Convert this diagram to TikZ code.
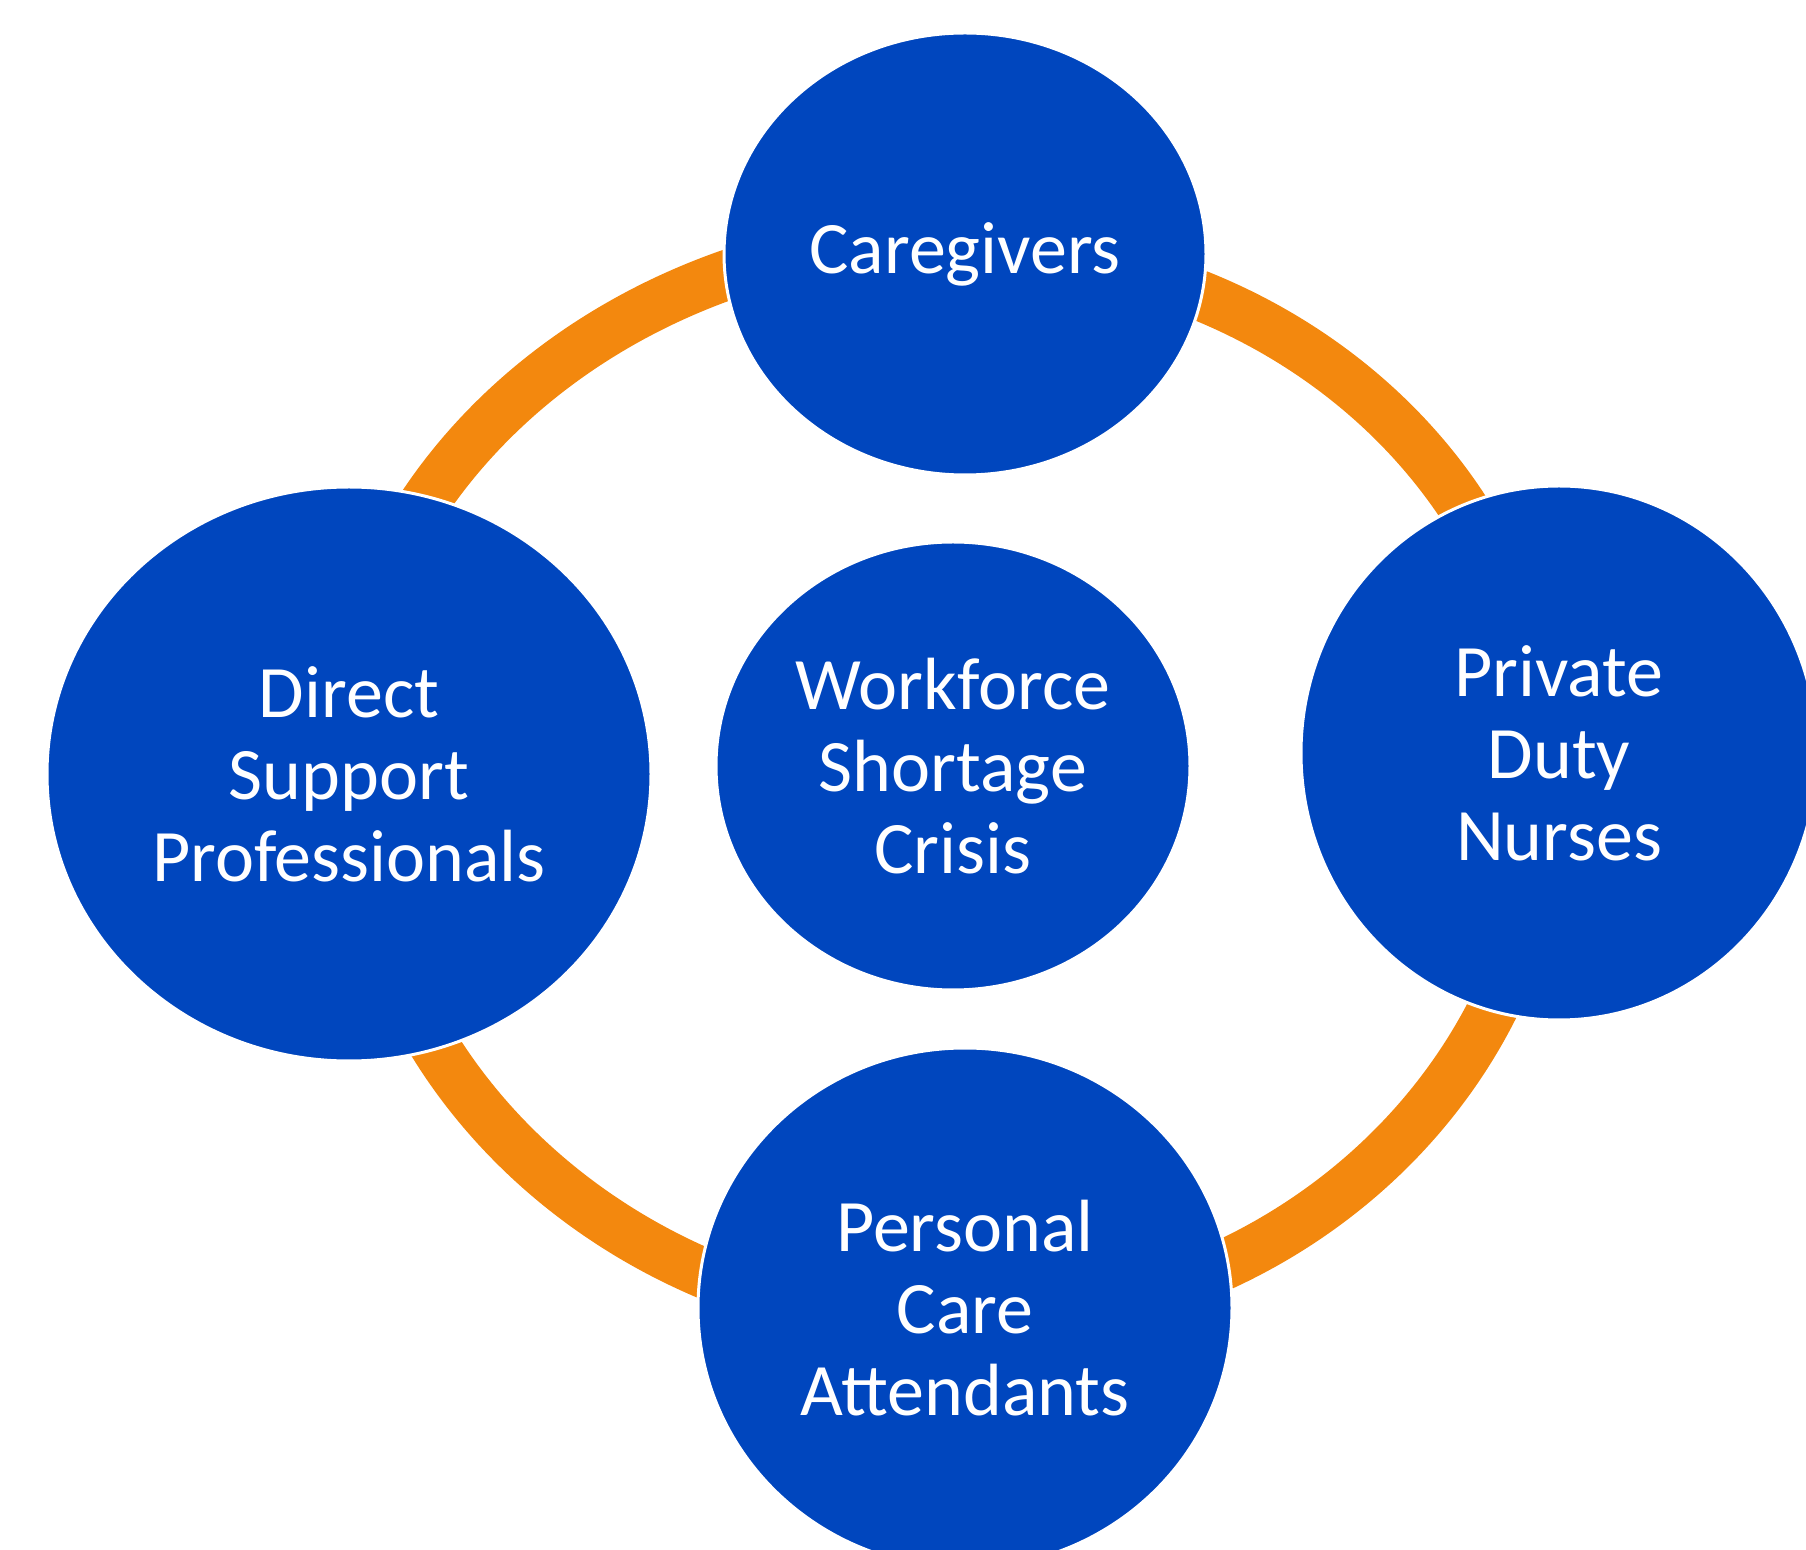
\documentclass[tikz,border=0pt]{standalone}
\usepackage{fontspec}
\setmainfont{Carlito}
\usetikzlibrary{shapes.geometric}

\definecolor{cycleblue}{HTML}{0046BE}
\definecolor{cycleorange}{HTML}{F3880E}

\newcommand*{\xMax}{1806}
\newcommand*{\yMax}{1550}

\begin{document}
\begin{tikzpicture}[x=0.5pt,y=-0.5pt,
    bubble/.style={ellipse,fill=cycleblue,draw=white,line width=1.5pt,
        inner sep=0pt,text=white,align=center,
        font=\fontsize{37}{41}\selectfont},
    ring/.style={draw=cycleorange,line width=25pt}]

    \useasboundingbox (0,0) rectangle (\xMax,\yMax);
    \clip (0,0) rectangle (\xMax,\yMax);

%   ends of the orange arcs, hidden under the bubbles
    \coordinate (dspTop)  at (340,774);
    \coordinate (careL)   at (963,235);
    \coordinate (careR)   at (963,250);
    \coordinate (pdnTop)  at (1544,774);
    \coordinate (pdnBot)  at (1549,774);
    \coordinate (pcaR)    at (963,1322);
    \coordinate (pcaL)    at (963,1326);
    \coordinate (dspBot)  at (356,774);

%   the orange cycle behind the bubbles, one quarter per pair
    \draw [ring] (dspTop) .. controls +(0,-298) and +(-344,0) .. (careL);
    \draw [ring] (careR)  .. controls +(321,0) and +(0,-289) .. (pdnTop);
    \draw [ring] (pdnBot) .. controls +(0,303) and +(324,0) .. (pcaR);
    \draw [ring] (pcaL)   .. controls +(-335,0) and +(0,305) .. (dspBot);

    \node [bubble,minimum width=241pt,minimum height=221pt] (care)   at (965,254)  {Caregivers};
    \node [bubble,minimum width=237pt,minimum height=224pt] (crisis) at (953,766)  {Workforce\\Shortage\\Crisis};
    \node [bubble,minimum width=302pt,minimum height=287pt] (dsp)    at (349,774)  {Direct\\Support\\Professionals};
    \node [bubble,minimum width=258pt,minimum height=267pt] (pdn)    at (1559,753) {Private\\Duty\\Nurses};
    \node [bubble,minimum width=267pt,minimum height=260pt] (pca)    at (965,1308) {Personal\\Care\\Attendants};

\end{tikzpicture}
\end{document}
